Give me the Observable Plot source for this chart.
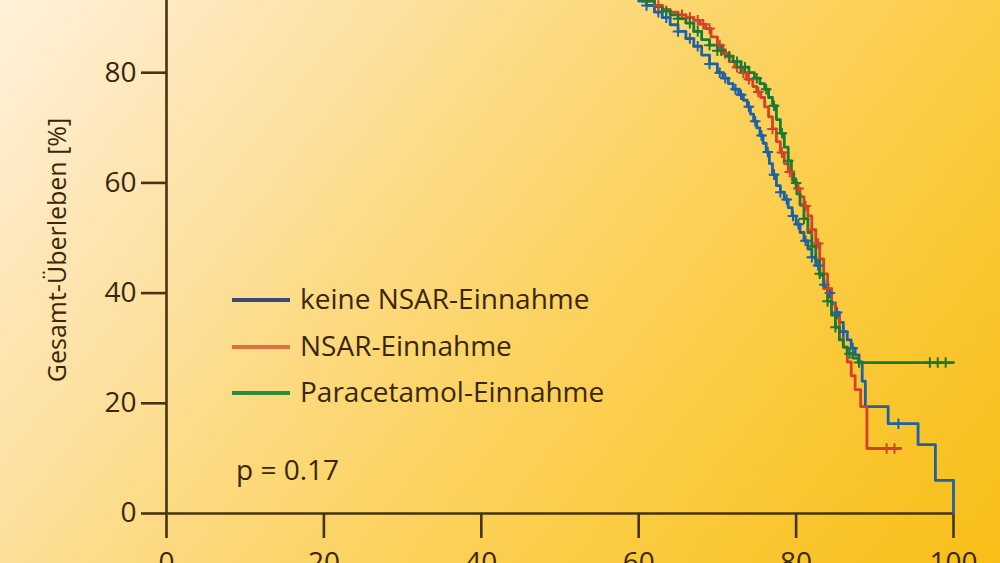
<!DOCTYPE html>
<html>
<head>
<meta charset="utf-8">
<script src="https://cdn.jsdelivr.net/npm/d3@7"></script>
<script src="https://cdn.jsdelivr.net/npm/@observablehq/plot@0.6"></script>
<style>
  html, body { margin: 0; padding: 0; width: 1000px; height: 563px; overflow: hidden; }
  body {
    font-family: "Open Sans", "Noto Sans", sans-serif;
    font-weight: 500;
    color: #3a2708;
    background: linear-gradient(128deg, #fff1da 0%, #fde3ac 22%, #fcd774 46%, #fbcc44 70%, #f8be16 100%);
    position: relative;
  }
  #chart { position: absolute; left: 0; top: -60px; }
  .ytitle { position: absolute; left: 56px; top: 250px; transform: translate(-50%, -50%) rotate(-90deg); white-space: nowrap; font-size: 25px; }
  .legend { position: absolute; left: 232px; top: 0; }
  .row { position: absolute; left: 0; height: 36px; line-height: 36px; white-space: nowrap; font-size: 28px; }
  .row .sw { position: absolute; left: 0; top: 16px; width: 58px; height: 4px; }
  .row .lab { position: absolute; left: 68px; top: -2px; }
  .pval { position: absolute; left: 236px; top: 450px; font-size: 28px; white-space: nowrap; }
</style>
</head>
<body>
<div id="chart"></div>
<div class="ytitle">Gesamt-Überleben [%]</div>
<div class="legend" id="legend"></div>
<div class="pval" id="pval"></div>
<script>
// ---- data ----
const seriesNames = ["keine NSAR-Einnahme", "NSAR-Einnahme", "Paracetamol-Einnahme"];
const seriesColors = ["#1f62a4", "#d3432a", "#1c7a33"];
const legendColors = ["#3b4a78", "#e0703e", "#2e8b3c"];
const pText = "p = 0.17";

// Kaplan-Meier step points: age (years) and survival (%)
const keineAge  = [0, 30, 40, 45, 50, 53, 55, 57, 58, 59, 60, 61, 62, 63, 64, 65, 66, 67, 68, 69, 70, 70.7, 71.4, 72, 72.7, 73.3, 73.8, 74.2, 74.6, 75, 75.4, 75.8, 76.2, 76.6, 77, 77.5, 78, 78.5, 79, 79.5, 80, 80.5, 81, 81.5, 82, 82.5, 83, 83.5, 84, 84.5, 85, 85.5, 86, 86.5, 87, 87.5, 88, 88.4, 88.8, 91.7, 95.5, 97.7, 100];
const keineSurv = [100, 100, 99.5, 99, 98, 97, 96, 95, 94.3, 93.8, 93, 92.2, 91, 90, 88.7, 87.5, 86.2, 84.8, 83.2, 81.6, 80, 79, 78, 77, 76, 75, 73.8, 72.5, 71.2, 70, 68.6, 67.2, 65.6, 63.5, 61.5, 59.5, 58.3, 57, 55.5, 54, 52.5, 51, 49.5, 48, 46.5, 45, 43.2, 41.5, 40, 38.2, 36.5, 34.7, 33, 31.5, 30, 28.8, 27.5, 24, 19.4, 16.3, 12.5, 6, 0];

const nsarAge  = [0, 30, 40, 50, 55, 58, 59.5, 61, 62, 63, 64, 65, 66, 67, 67.8, 68.5, 69.2, 70, 70.7, 71.5, 72.2, 73, 73.7, 74.5, 75, 75.5, 76, 76.5, 77, 77.5, 78, 78.5, 79, 79.5, 80, 80.5, 81, 81.5, 82, 82.5, 83, 83.5, 84, 84.5, 85, 85.5, 86, 86.5, 87, 87.5, 88.2, 89, 93.3];
const nsarSurv = [100, 100, 99.5, 98, 96, 94.5, 93.7, 93, 92.2, 91.5, 91, 90.5, 90, 89.5, 88.8, 88, 86.5, 85, 83.5, 82, 81, 80, 78.8, 77.5, 76.5, 75.5, 73.8, 72, 69.8, 67.5, 65.5, 63.5, 62, 60.5, 59, 57.5, 55.8, 54, 51.5, 49, 46.2, 43.5, 40.8, 38, 35.5, 33, 30.2, 27.5, 25, 22.5, 19.4, 11.8, 11.8];

const paraAge  = [0, 30, 40, 50, 55, 57, 59, 60.5, 62, 63, 64, 65, 66, 67, 68, 69, 70, 71, 72, 73, 74, 74.7, 75.4, 76, 76.5, 77, 77.5, 78, 78.5, 79, 79.4, 79.7, 80.1, 80.5, 81, 81.5, 82, 82.5, 83, 83.5, 84, 84.5, 85, 85.5, 86, 86.5, 87.2, 87.9, 100];
const paraSurv = [100, 100, 99.5, 98, 96.5, 95.2, 94, 93, 92, 91.2, 90.5, 89.8, 89, 87.5, 86, 85, 84, 83, 82, 81, 80, 79, 78, 77, 75.5, 74, 71.5, 69, 66.5, 64, 62, 60, 58, 56, 53.5, 51, 48.5, 46, 43.5, 41, 38.5, 36, 33.8, 31.5, 30.2, 29, 28.2, 27.4, 27.4];

// censoring times (+ marks)
const keineCens = [61, 62.5, 63.5, 65, 66.5, 67.5, 69, 70.3, 71, 72.3, 73, 74, 74.8, 75.6, 76.4, 77.2, 78, 78.8, 79.6, 80.3, 81.2, 82, 82.8, 83.6, 84.3, 85.2, 86, 87.2, 93];
const nsarCens  = [62.5, 65.5, 66.5, 67.5, 68.2, 69, 70.3, 71, 72.5, 73.3, 74, 75.2, 77, 78.2, 79.2, 80.3, 81.2, 82, 82.8, 84, 91.5, 92.5];
const paraCens  = [61, 63.5, 65, 66.5, 67.5, 69, 70, 70.5, 71.5, 72.5, 73, 73.5, 75, 76.2, 77.2, 78.2, 79, 80, 81, 82, 83, 84, 85, 86.8, 88, 97, 98, 99];

const xTicks = [0, 20, 40, 60, 80, 100];
const yTicks = [0, 20, 40, 60, 80];

// ---- build tables ----
const ages = [keineAge, nsarAge, paraAge];
const survs = [keineSurv, nsarSurv, paraSurv];
const cens = [keineCens, nsarCens, paraCens];

const curveRows = [];
const censRows = [];
const bis = d3.bisector(d => d).right;
seriesNames.forEach((name, i) => {
  ages[i].forEach((a, j) => curveRows.push({series: name, age: a, surv: survs[i][j]}));
  cens[i].forEach(t => {
    const k = bis(ages[i], t) - 1;
    censRows.push({series: name, age: t, surv: survs[i][Math.max(0, k)]});
  });
});

const axisColor = "#46330f";

const plot = Plot.plot({
  width: 1000,
  height: 640,
  marginLeft: 166,
  marginRight: 47,
  marginTop: 22,
  marginBottom: 67,
  style: {background: "transparent", overflow: "visible", fontFamily: "'Open Sans', 'Noto Sans', sans-serif", fontWeight: 500, color: "#3a2708"},
  x: {domain: [0, 100]},
  y: {domain: [0, 100]},
  color: {domain: seriesNames, range: seriesColors},
  marks: [
    Plot.ruleY([0], {stroke: axisColor, strokeWidth: 2.6}),
    Plot.ruleX([0], {stroke: axisColor, strokeWidth: 2.6}),
    Plot.axisY({ticks: yTicks, tickSize: 25, tickPadding: 5, fontSize: 28, label: null, stroke: axisColor, strokeWidth: 2.6, fill: "#3a2708", strokeOpacity: 1}),
    Plot.axisX({ticks: xTicks, tickSize: 25, tickPadding: 14, fontSize: 28, label: null, stroke: axisColor, strokeWidth: 2.6, fill: "#3a2708", strokeOpacity: 1}),
    Plot.line(curveRows, {x: "age", y: "surv", z: "series", stroke: "series", curve: "step-after", strokeWidth: 2.8}),
    Plot.dot(censRows, {x: "age", y: "surv", stroke: "series", symbol: "plus", r: 3.5, strokeWidth: 2})
  ]
});
document.getElementById("chart").appendChild(plot);

// legend
const leg = document.getElementById("legend");
const rowCenters = [300, 347, 393];
seriesNames.forEach((name, i) => {
  const row = document.createElement("div");
  row.className = "row";
  row.style.top = (rowCenters[i] - 18) + "px";
  const sw = document.createElement("span");
  sw.className = "sw";
  sw.style.background = legendColors[i];
  const lab = document.createElement("span");
  lab.className = "lab";
  lab.textContent = name;
  row.appendChild(sw);
  row.appendChild(lab);
  leg.appendChild(row);
});
document.getElementById("pval").textContent = pText;
</script>
</body>
</html>
